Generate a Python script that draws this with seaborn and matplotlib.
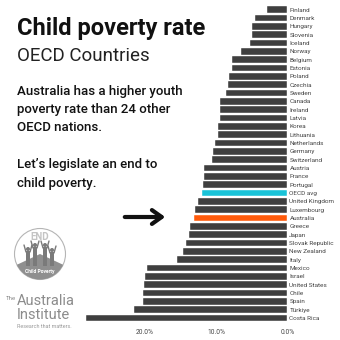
import matplotlib
matplotlib.use("Agg")
import matplotlib.pyplot as plt
import seaborn as sns
import pandas as pd
from matplotlib.patches import Circle, Wedge, Rectangle, FancyArrowPatch
from matplotlib.ticker import FuncFormatter

countries = ["Finland", "Denmark", "Hungary", "Slovenia", "Iceland", "Norway", "Belgium",
             "Estonia", "Poland", "Czechia", "Sweden", "Canada", "Ireland", "Latvia", "Korea",
             "Lithuania", "Netherlands", "Germany", "Switzerland", "Austria", "France",
             "Portugal", "OECD avg", "United Kingdom", "Luxembourg", "Australia", "Greece",
             "Japan", "Slovak Republic", "New Zealand", "Italy", "Mexico", "Israel",
             "United States", "Chile", "Spain", "Türkiye", "Costa Rica"]
rates = [2.8, 4.6, 5.0, 5.0, 5.2, 6.5, 7.7, 7.8, 8.2, 8.3, 8.6, 9.4, 9.4, 9.4, 9.7,
         9.7, 10.2, 10.4, 10.6, 11.7, 11.7, 11.8, 12.0, 12.5, 13.0, 13.1, 13.7,
         13.8, 14.2, 14.6, 15.5, 19.7, 19.9, 20.1, 20.2, 20.2, 21.5, 28.2]
highlight = {"OECD avg": "#19c3d8", "Australia": "#ff5a0a"}
base_color = "#3f3f3f"
xticks = [0, 10, 20]

df = pd.DataFrame({"country": countries, "rate": rates})
palette = {c: highlight.get(c, base_color) for c in countries}

sns.set_theme(style="white")
plt.rcParams["font.family"] = ["Roboto", "DejaVu Sans"]

fig = plt.figure(figsize=(3.4, 3.4), dpi=100)
ax = fig.add_axes([0.237, 0.052, 0.608, 0.932])
sns.barplot(data=df, x="rate", y="country", hue="country", palette=palette,
            legend=False, orient="h", width=0.8, ax=ax, saturation=1,
            edgecolor="white", linewidth=0.3)
ax.set_xlim(29, 0)
ax.set_ylim(len(countries) - 0.5, -0.5)
ax.yaxis.tick_right()
ax.set_xticks(xticks)
ax.xaxis.set_major_formatter(FuncFormatter(lambda v, p: f"{v:.1f}%"))
ax.tick_params(axis="y", labelsize=4.6, length=0, pad=1.5, labelcolor="#444444")
ax.tick_params(axis="x", labelsize=4.8, length=0, pad=5, labelcolor="#444444")
ax.set_xlabel("")
ax.set_ylabel("")
for s in ax.spines.values():
    s.set_visible(False)

# Text block
fig.text(17 / 340, 1 - 28 / 340, "Child poverty rate", fontsize=17, fontweight="bold",
         color="#111111", va="center", ha="left")
fig.text(17 / 340, 1 - 56 / 340, "OECD Countries", fontsize=13.5, fontweight="normal",
         color="#222222", va="center", ha="left")
body = ["Australia has a higher youth", "poverty rate than 24 other", "OECD nations."]
for i, line in enumerate(body):
    fig.text(17 / 340, 1 - (92 + i * 17.8) / 340, line, fontsize=9.5, fontweight="medium",
             color="#111111", va="center", ha="left")
fig.text(17 / 340, 1 - 164 / 340, "Let\u2019s legislate an end to", fontsize=9.5,
         fontweight="medium", color="#111111", va="center", ha="left")
fig.text(17 / 340, 1 - 184 / 340, "child poverty.", fontsize=9.5, fontweight="medium",
         color="#111111", va="center", ha="left")

# Arrow
fig.add_artist(FancyArrowPatch(
    (122 / 340, 1 - 217 / 340), (168 / 340, 1 - 217 / 340),
    transform=fig.transFigure, arrowstyle="->,head_length=7,head_width=5",
    color="#111111", lw=3.0, mutation_scale=1, capstyle="round", joinstyle="round"))

# Logos
logo_ax = fig.add_axes([0, 0, 1, 1], facecolor="none")
logo_ax.set_xlim(0, 340)
logo_ax.set_ylim(340, 0)
logo_ax.axis("off")
logo_ax.add_patch(Circle((40, 254), 25.5, facecolor="white", edgecolor="#b5b5b5", lw=0.8))
logo_ax.add_patch(Wedge((40, 254), 25.5, 25, 155, facecolor="#8f8f8f", edgecolor="none"))
logo_ax.text(40, 237, "END", fontsize=7, fontweight="bold", color="#c4c4c4",
             ha="center", va="center")
for cx, h in [(28, 20), (35, 24), (45, 24), (52, 19)]:
    top = 266 - h
    logo_ax.add_patch(Rectangle((cx - 2.2, top + 5), 4.4, h - 5, facecolor="#7a7a7a", edgecolor="none"))
    logo_ax.add_patch(Circle((cx, top + 3), 2.0, facecolor="#7a7a7a", edgecolor="none"))
    logo_ax.plot([cx - 2, cx - 4], [top + 6, top - 1], color="#7a7a7a", lw=1.0)
    logo_ax.plot([cx + 2, cx + 4], [top + 6, top - 1], color="#7a7a7a", lw=1.0)
logo_ax.text(40, 271, "Child Poverty", fontsize=3.6, fontweight="bold", color="white",
             ha="center", va="center")

logo_ax.text(6, 298, "The", fontsize=4.4, color="#8c8c8c", ha="left", va="center")
logo_ax.text(17, 301, "Australia", fontsize=10.5, color="#8c8c8c", ha="left", va="center")
logo_ax.text(17, 315, "Institute", fontsize=10.5, color="#8c8c8c", ha="left", va="center")
logo_ax.text(17, 326, "Research that matters.", fontsize=3.9, color="#9a9a9a",
             ha="left", va="center")

fig.savefig("out.png", dpi=100, facecolor="white")
